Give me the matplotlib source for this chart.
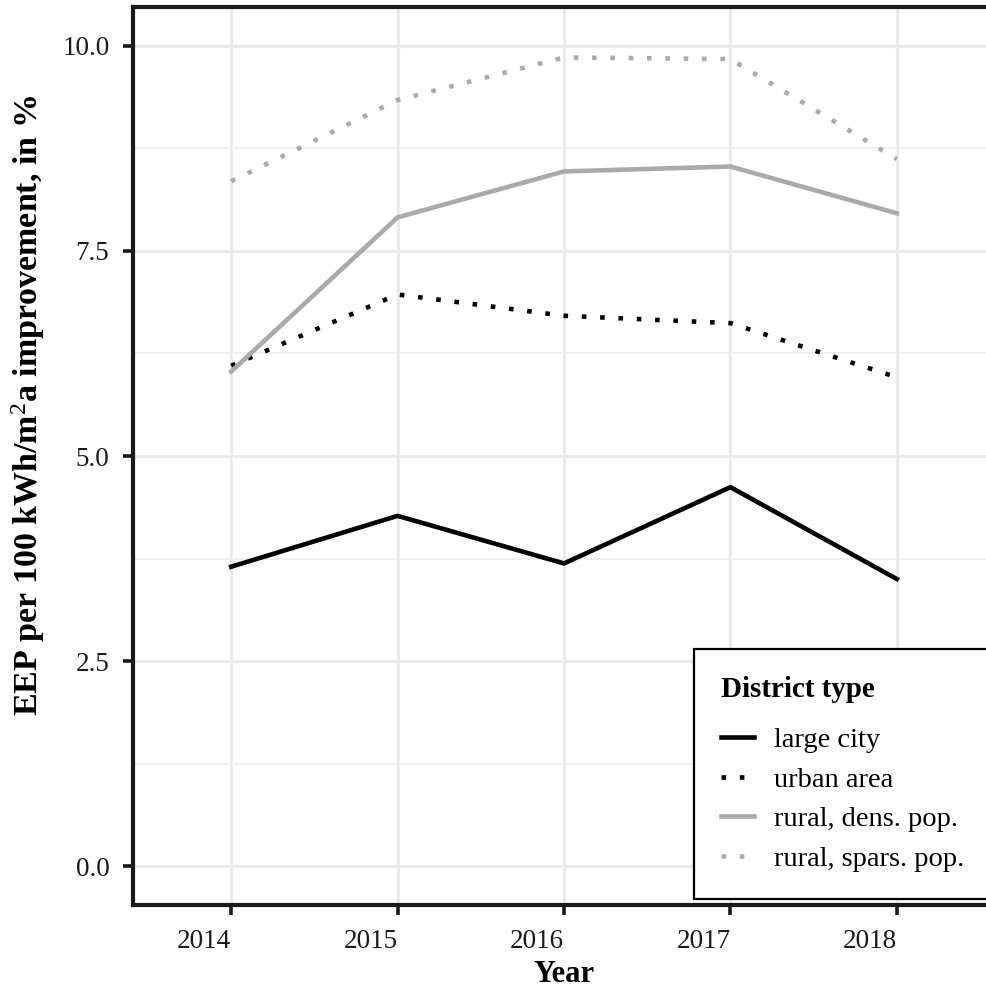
import numpy as np
import matplotlib
matplotlib.use("Agg")
from matplotlib import pyplot as plt
from matplotlib.ticker import MultipleLocator

# data
years = [2014, 2015, 2016, 2017, 2018]
large_city = [3.65, 4.27, 3.69, 4.62, 3.50]
urban_area = [6.10, 6.97, 6.71, 6.62, 5.96]
rural_dense = [6.03, 7.91, 8.47, 8.53, 7.96]
rural_sparse = [8.35, 9.34, 9.86, 9.84, 8.62]
series_names = ["large city", "urban area", "rural, dens. pop.", "rural, spars. pop."]
y_ticks = [0.0, 2.5, 5.0, 7.5, 10.0]

plt.rcParams['font.family'] = ['Liberation Serif', 'DejaVu Serif']
plt.rcParams['mathtext.fontset'] = 'custom'
plt.rcParams['mathtext.rm'] = 'Liberation Serif'
plt.rcParams['mathtext.it'] = 'Liberation Serif:italic'
plt.rcParams['mathtext.bf'] = 'Liberation Serif:bold'

W, H = 986, 991
fig = plt.figure(figsize=(W / 100, H / 100), dpi=100)
# panel runs a little past the right edge of the picture, like the reference
left, right, top, bottom = 133, 995, 7, 905
ax = fig.add_axes([left / W, 1 - bottom / H, (right - left) / W, (bottom - top) / H])

lw = 3.3
black = '#000000'
grey = '#aaaaaa'
ax.plot(years, large_city, color=black, lw=lw, solid_joinstyle='miter', label=series_names[0])
ax.plot(years, urban_area, color=black, lw=lw, dashes=(1, 3), dash_capstyle='butt', label=series_names[1])
ax.plot(years, rural_dense, color=grey, lw=lw, solid_joinstyle='miter', label=series_names[2])
ax.plot(years, rural_sparse, color=grey, lw=lw, dashes=(1, 3), dash_capstyle='butt', label=series_names[3])

ax.set_xlim(2013.41, 2018.59)
ax.set_ylim(-0.475, 10.475)
ax.set_xticks(years)
ax.set_yticks(y_ticks)
ax.set_yticklabels([f"{v:.1f}" for v in y_ticks])
ax.yaxis.set_minor_locator(MultipleLocator(1.25))

ax.grid(True, which='major', color='#ebebeb', lw=2.3)
ax.grid(True, which='minor', axis='y', color='#ebebeb', lw=1.2)
ax.set_axisbelow(True)

for side in ['left', 'top', 'bottom', 'right']:
    ax.spines[side].set_linewidth(3.0)
    ax.spines[side].set_color('#1a1a1a')

ax.tick_params(axis='both', which='major', length=7, width=2.6, color='#1a1a1a',
               labelsize=19.5, labelcolor='#1a1a1a', pad=10)
ax.tick_params(axis='y', which='minor', length=0)
for lab in ax.get_xticklabels():
    lab.set_horizontalalignment('right')

ax.set_xlabel('Year', fontsize=22, fontweight='bold')
ax.xaxis.set_label_coords(0.5, -(974 - bottom) / (bottom - top), transform=ax.transAxes)
ax.xaxis.label.set_verticalalignment('center')
ax.set_ylabel(r'EEP per 100 kWh/m$^2$a improvement, in %', fontsize=24.5, fontweight='bold')
ax.yaxis.set_label_coords((28 - left) / (right - left), (bottom - 405) / (bottom - top), transform=ax.transAxes)
ax.yaxis.label.set_verticalalignment('center')

leg = ax.legend(title='District type', loc='upper left',
                bbox_to_anchor=(694 / W, 1 - 649 / H), bbox_transform=fig.transFigure,
                borderaxespad=0,
                fontsize=20.5, title_fontproperties={'weight': 'bold', 'size': 21},
                frameon=True, fancybox=False, edgecolor='black', framealpha=1,
                handlelength=1.15, handletextpad=0.72, labelspacing=0.48,
                borderpad=0.95, alignment='left')
leg.get_frame().set_linewidth(1.6)
# a little more room between the legend title and the entries
leg._legend_box.sep = 0.85 * 20.5

fig.savefig('out.png', dpi=100)
